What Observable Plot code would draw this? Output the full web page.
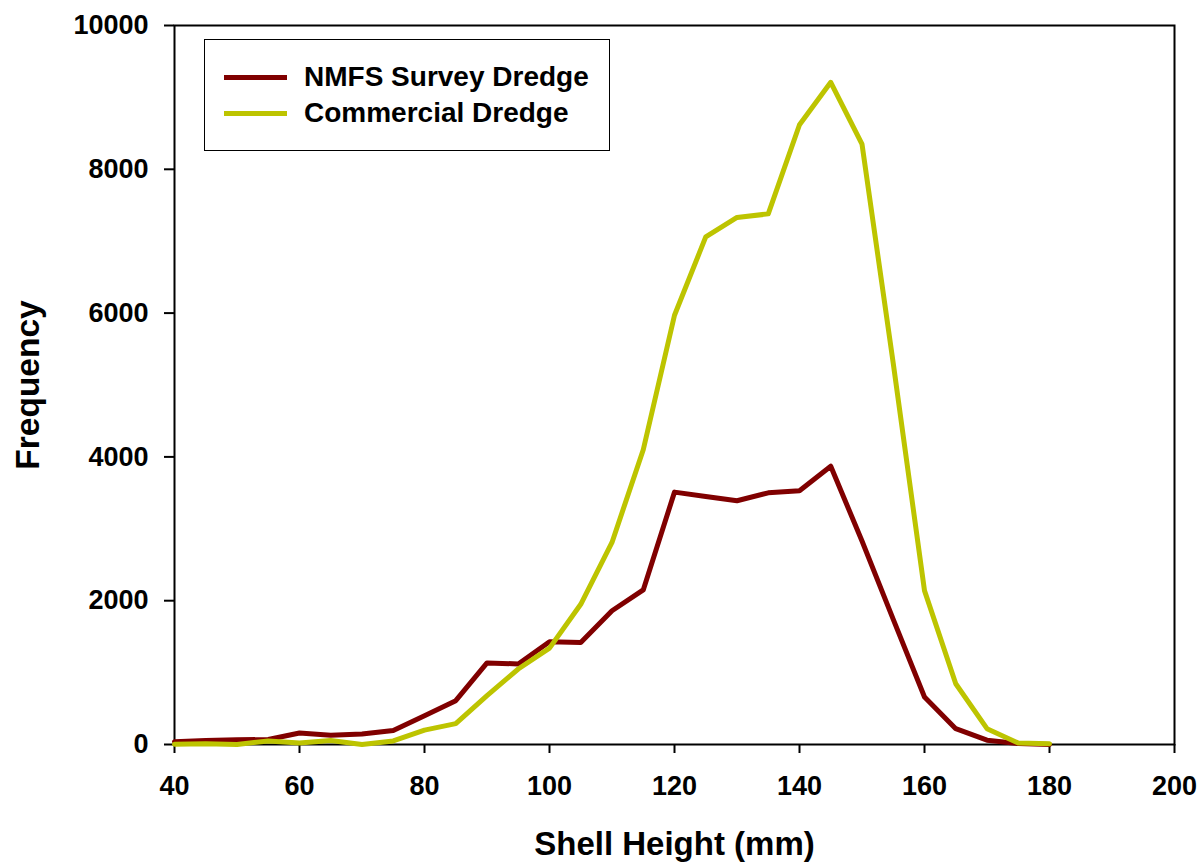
<!DOCTYPE html>
<html>
<head>
<meta charset="utf-8">
<script src="https://cdn.jsdelivr.net/npm/d3@7"></script>
<script src="https://cdn.jsdelivr.net/npm/@observablehq/plot@0.6"></script>
<style>
  html, body { margin: 0; padding: 0; background: #fff; }
  #chart { position: relative; width: 1200px; height: 865px; font-family: "Liberation Sans", Arial, sans-serif; }
  #legend {
    position: absolute; left: 204px; top: 39px; width: 404px; height: 110px;
    border: 1.5px solid #000; background: #fff; box-sizing: content-box;
  }
  .item { position: absolute; left: 0; display: flex; align-items: center; height: 30px; }
  .swatch { width: 63px; height: 5px; margin-left: 19px; margin-right: 17px; }
  .item span { font-weight: bold; font-size: 28px; color: #000; white-space: nowrap; }
</style>
</head>
<body>
<div id="chart"></div>
<script>
const shellHeight = [40,45,50,55,60,65,70,75,80,85,90,95,100,105,110,115,120,125,130,135,140,145,150,155,160,165,170,175,180];
const nmfs = [40,55,65,70,160,130,145,195,400,610,1135,1120,1430,1420,1860,2150,3510,3450,3390,3500,3530,3870,2830,1740,660,220,60,15,0];
const commercial = [5,10,0,50,20,55,0,50,200,290,680,1050,1340,1950,2810,4100,5970,7060,7330,7380,8620,9210,8350,5300,2140,845,220,20,10];
const seriesNames = ["NMFS Survey Dredge", "Commercial Dredge"];
const seriesColors = ["#800000", "#bdc400"];
const xTicks = [40,60,80,100,120,140,160,180,200];
const yTicks = [0,2000,4000,6000,8000,10000];
const xTitle = "Shell Height (mm)";
const yTitle = "Frequency";

const rows = [];
shellHeight.forEach((h, i) => {
  rows.push({h, v: nmfs[i], s: seriesNames[0]});
});
shellHeight.forEach((h, i) => {
  rows.push({h, v: commercial[i], s: seriesNames[1]});
});

const font = "'Liberation Sans', Arial, sans-serif";
const plot = Plot.plot({
  width: 1200,
  height: 865,
  marginLeft: 174,
  marginRight: 26,
  marginTop: 25,
  marginBottom: 121,
  style: {fontFamily: font, fontSize: "27px", fontWeight: "bold", color: "#000", background: "#fff", overflow: "visible"},
  x: {domain: [40, 200]},
  y: {domain: [0, 10000]},
  color: {domain: seriesNames, range: seriesColors},
  marks: [
    Plot.axisX({ticks: xTicks, tickSize: 9, tickPadding: 22, label: null, strokeWidth: 2, fontSize: 27, tickFormat: d3.format("d")}),
    Plot.axisY({ticks: yTicks, tickSize: 10, tickPadding: 16, label: null, strokeWidth: 2, fontSize: 27, tickFormat: d3.format("d")}),
    Plot.frame({stroke: "#000", strokeWidth: 2}),
    Plot.line(rows, {x: "h", y: "v", z: "s", stroke: "s", strokeWidth: 5, strokeLinejoin: "round"}),
    Plot.text([xTitle], {frameAnchor: "bottom", dy: 110, fontSize: 33, fontWeight: "bold", fill: "#000"}),
    Plot.text([yTitle], {frameAnchor: "left", textAnchor: "middle", dx: -146, rotate: -90, fontSize: 33.5, fontWeight: "bold", fill: "#000"})
  ]
});

const chart = document.getElementById("chart");
chart.appendChild(plot);

const legend = document.createElement("div");
legend.id = "legend";
seriesNames.forEach((name, i) => {
  const item = document.createElement("div");
  item.className = "item";
  item.style.top = (22 + i * 36) + "px";
  const sw = document.createElement("div");
  sw.className = "swatch";
  sw.style.background = seriesColors[i];
  const label = document.createElement("span");
  label.textContent = name;
  item.appendChild(sw);
  item.appendChild(label);
  legend.appendChild(item);
});
chart.appendChild(legend);
</script>
</body>
</html>
